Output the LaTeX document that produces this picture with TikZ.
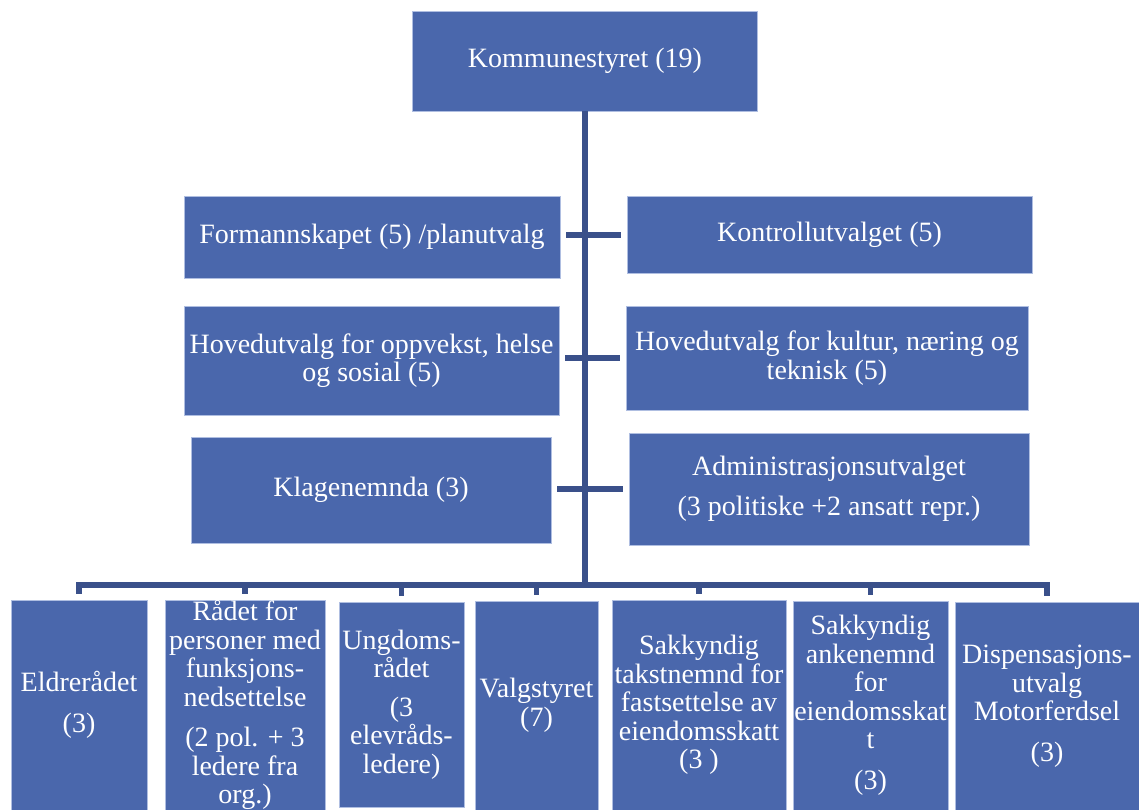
\documentclass[tikz,border=0pt]{standalone}
\usepackage{fontspec}
\setmainfont{Liberation Serif}
\definecolor{boxblue}{RGB}{74,103,172}
\definecolor{linkblue}{RGB}{58,80,138}
\definecolor{edgeblue}{RGB}{175,190,225}

\begin{document}
\begin{tikzpicture}[x=1pt,y=-1pt,
  unit/.style={draw=edgeblue,line width=0.8pt,fill=boxblue,text=white,
    inner sep=0pt,align=center,font=\fontsize{28}{28.5}\selectfont},
  conn/.style={draw=linkblue,line width=5.5pt}]

\useasboundingbox (0,0) rectangle (1139,810);

% The council at the top
\node [unit,minimum width=345pt,minimum height=100pt] (top) at (585,61) {Kommunestyret (19)};

% Committees on both sides of the trunk
\node [unit,minimum width=376pt,minimum height=82pt] (form) at (372,237) {Formannskapet (5) /planutvalg};
\node [unit,minimum width=405pt,minimum height=77pt] (kontroll) at (829.5,234.5) {Kontrollutvalget (5)};
\node [unit,minimum width=375pt,minimum height=109pt] (hova) at (371.5,360.5) {Hovedutvalg for oppvekst, helse\\og sosial (5)};
\node [unit,minimum width=402pt,minimum height=104pt] (hovb) at (827,358) {Hovedutvalg for kultur, næring og\\teknisk (5)};
\node [unit,minimum width=360pt,minimum height=106pt] (klage) at (371,490) {Klagenemnda (3)};
\node [unit,minimum width=400pt,minimum height=112pt] (admin) at (829,489) {Administrasjonsutvalget\\[12pt](3 politiske +2 ansatt repr.)};

% The councils along the bottom
\node [unit,minimum width=136pt,minimum height=210pt] (eld) at (79,705) {Eldrerådet\\[12pt](3)};
\node [unit,minimum width=160pt,minimum height=210pt] (raad) at (245,705) {Rådet for\\personer med\\funksjons-\\nedsettelse\\[12pt](2 pol. + 3\\ledere fra\\org.)};
\node [unit,minimum width=125pt,minimum height=205pt] (ung) at (401.5,704.5) {Ungdoms-\\rådet\\[10pt](3\\elevråds-\\ledere)};
\node [unit,minimum width=123pt,minimum height=209pt] (valg) at (536.5,705.5) {Valgstyret\\(7)};
\node [unit,minimum width=174pt,minimum height=210pt] (takst) at (699,705) {Sakkyndig\\takstnemnd for\\fastsettelse av\\eiendomsskatt\\(3 )};
\node [unit,minimum width=155pt,minimum height=209pt] (anke) at (870.5,705.5) {Sakkyndig\\ankenemnd\\for\\eiendomsskat\\t\\[12pt](3)};
\node [unit,minimum width=184pt,minimum height=208pt] (disp) at (1047,706) {Dispensasjons-\\utvalg\\Motorferdsel\\[12pt](3)};

% Trunk and the stubs to each row
\coordinate (bus) at (585,585);
\draw [conn] (top.south) -- (bus);
\foreach \y/\l/\r in {235/form/kontroll, 358/hova/hovb, 489/klage/admin} {
  \coordinate (row) at (585,\y);
  \draw [conn,shorten >=6pt] (row) -- (row -| \l.east);
  \draw [conn,shorten >=6pt] (row) -- (row -| \r.west);
}

% Bus down to the bottom row
\foreach \n in {eld,raad,ung,valg,takst,anke,disp} {
  \draw [conn,shorten >=6pt] (bus) -| (\n.north);
}
\end{tikzpicture}
\end{document}
